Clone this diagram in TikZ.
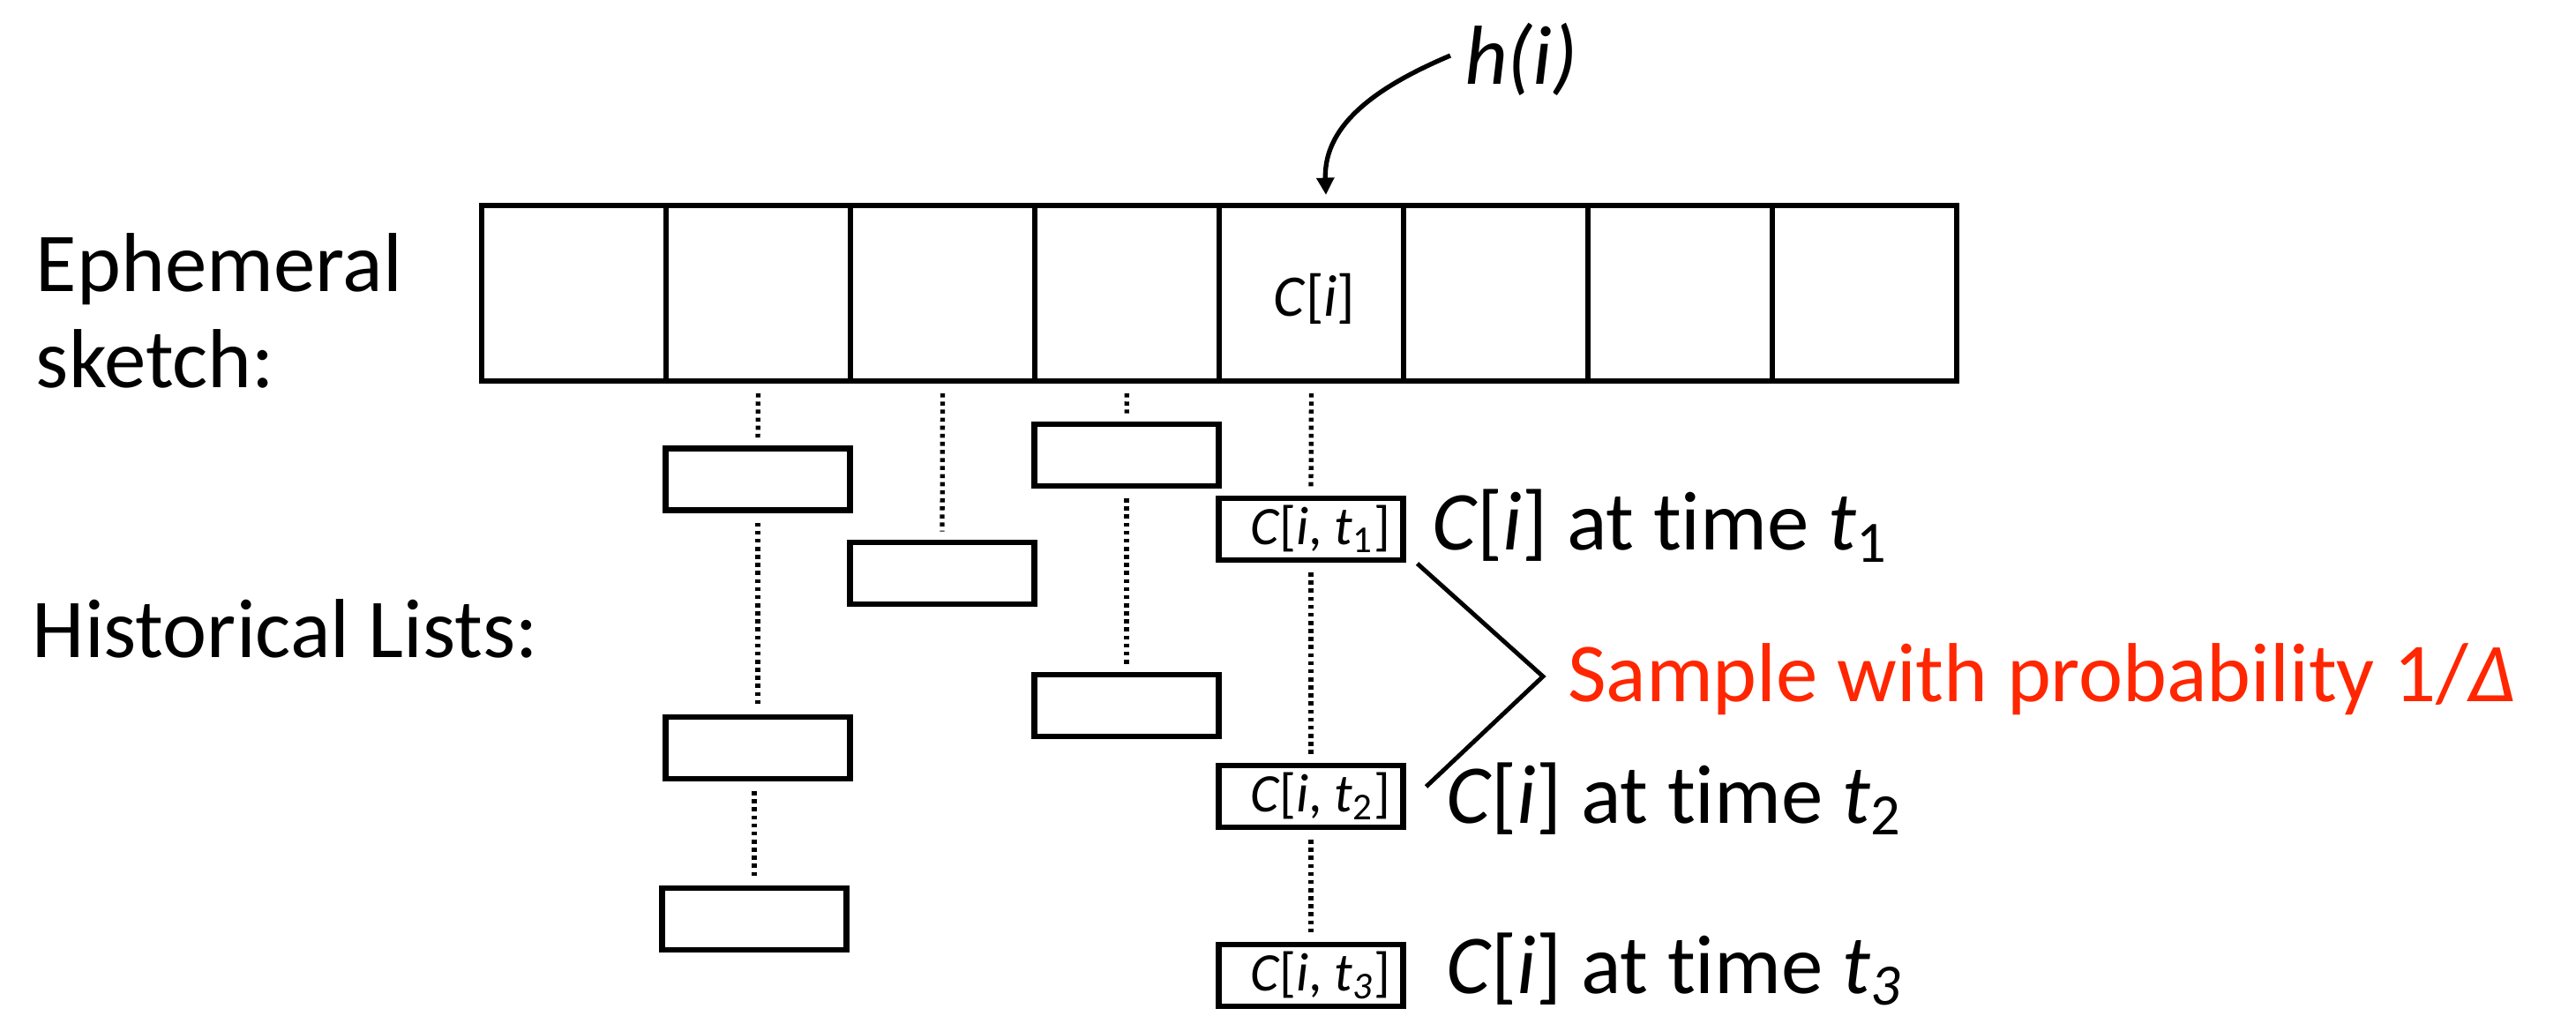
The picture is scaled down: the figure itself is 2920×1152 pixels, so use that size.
\documentclass[tikz,border=0pt]{standalone}
\usepackage{fontspec}
\setmainfont{Carlito}[Ligatures=NoCommon]
\usetikzlibrary{arrows.meta}
\definecolor{samplered}{RGB}{255,38,0}
\begin{document}
\begin{tikzpicture}[x=0.01cm,y=-0.01cm,
  cellbox/.style={draw, line width=1.5pt, minimum width=2.09cm, minimum height=1.99cm, inner sep=0pt, outer sep=0pt},
  histbox/.style={draw, line width=1.9pt, minimum width=2.09cm, minimum height=0.70cm, inner sep=0pt, outer sep=0pt, font=\fontsize{17.5}{21}\selectfont},
  dotline/.style={line width=1.5pt, dash pattern=on 1.3pt off 1.3pt, shorten <=4pt, shorten >=3.5pt},
  bigtext/.style={font=\fontsize{27}{31}\selectfont, inner sep=0pt, outer sep=0pt},
  midtext/.style={font=\fontsize{19}{22}\selectfont, inner sep=0pt, outer sep=0pt},
  thinline/.style={line width=1.4pt, line join=miter}]
\useasboundingbox (0,0) rectangle (2920,1152);

% ephemeral sketch cells
\foreach \k in {1,...,8}
  \node[cellbox] (c\k) at ({650.5+209*(\k-1)}, 332.5) {};
\node[midtext, anchor=base] (ci) at (1490, 359) {\textit{C}[\textit{i}]};

% left labels
\node[bigtext, anchor=west, align=left] (eph) at (41, 352) {Ephemeral\\sketch:};
\node[bigtext, anchor=base west] (hist) at (37, 745) {Historical Lists:};

% h(i) and arrow
\node[bigtext, anchor=base west] (hi) at (1660, 96) {\textit{h(i)}};
\draw[line width=1.5pt, -{Triangle[width=5.5pt,length=5.5pt]}]
  ([shift={(-16,-33)}]hi.base west) to[out=203, in=92] ([shift={(16.5,-12)}]c5.north);

% historical boxes
\node[histbox] (b21) at (859, 543.5) {};
\node[histbox] (b22) at (859, 848) {};
\node[histbox] (b23) at (855, 1042) {};
\node[histbox] (b31) at (1068, 650) {};
\node[histbox] (b41) at (1277, 516) {};
\node[histbox] (b42) at (1277, 800) {};
\node[histbox] (b51) at (1486, 600) {\hspace{6pt}\textit{C}[\textit{i}, \textit{t}\textsubscript{1}]};
\node[histbox] (b52) at (1486, 903) {\hspace{6pt}\textit{C}[\textit{i}, \textit{t}\textsubscript{2}]};
\node[histbox] (b53) at (1486, 1106) {\hspace{6pt}\textit{C}[\textit{i}, \textit{t}\textsubscript{\textit{3}}]};

% dotted links
\draw[dotline] (c2.south) -- (b21.north);
\draw[dotline] (b21.south) -- (b22.north);
\draw[dotline] (b22.south -| b23.north) -- (b23.north);
\draw[dotline] (c3.south) -- (b31.north);
\draw[dotline] (c4.south) -- (b41.north);
\draw[dotline] (b41.south) -- (b42.north);
\draw[dotline] (c5.south) -- (b51.north);
\draw[dotline] (b51.south) -- (b52.north);
\draw[dotline] (b52.south) -- (b53.north);

% right labels
\node[bigtext, anchor=base west] (l1) at (1623, 624) {\textit{C}[\textit{i}] at time \textit{t}\textsubscript{1}};
\node[bigtext, anchor=base west] (l2) at (1639, 933) {\textit{C}[\textit{i}] at time \textit{t}\textsubscript{2}};
\node[bigtext, anchor=base west] (l3) at (1639, 1126) {\textit{C}[\textit{i}] at time \textit{t}\textsubscript{\textit{3}}};

% bracket and sample text
\coordinate (apex) at (1749, 767);
\draw[thinline] ([shift={(16,4)}]b51.south east) -- (apex) -- ([shift={(26,24)}]b52.north east);
\node[bigtext, anchor=base west, text=samplered] (sample) at (1777, 795) {Sample with probability 1/\textit{Δ}};
\end{tikzpicture}
\end{document}
